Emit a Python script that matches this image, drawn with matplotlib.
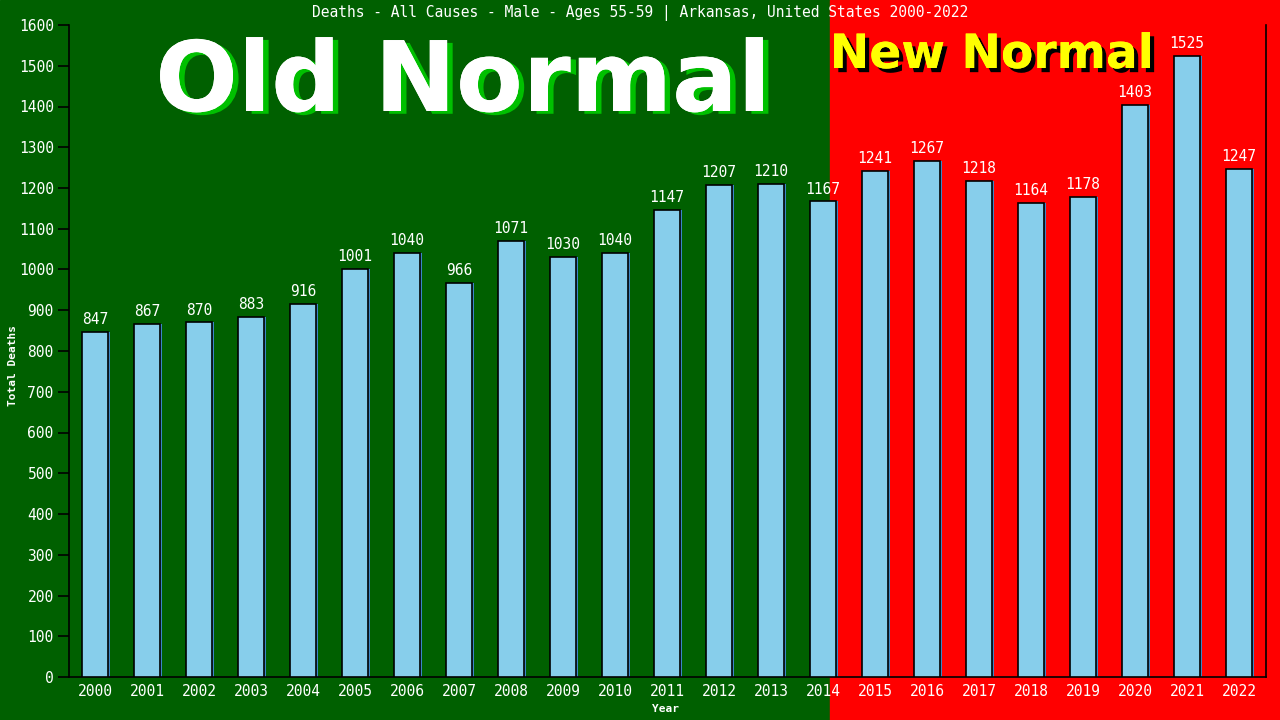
import matplotlib
matplotlib.use("Agg")
import matplotlib.pyplot as plt
import matplotlib.patheffects as pe
from matplotlib.patches import Rectangle
import numpy as np

years = [str(y) for y in range(2000, 2023)]
deaths = [847, 867, 870, 883, 916, 1001, 1040, 966, 1071, 1030, 1040, 1147,
          1207, 1210, 1167, 1241, 1267, 1218, 1164, 1178, 1403, 1525, 1247]
yticks = list(range(0, 1700, 100))
title = "Deaths - All Causes - Male - Ages 55-59 | Arkansas, United States 2000-2022"

mono = "DejaVu Sans Mono"
green = "#006000"
red = "#ff0000"

fig = plt.figure(figsize=(12.8, 7.2), dpi=100)
split = 830 / 1280
fig.patches.append(Rectangle((0, 0), split, 1, transform=fig.transFigure, color=green, zorder=-10))
fig.patches.append(Rectangle((split, 0), 1 - split, 1, transform=fig.transFigure, color=red, zorder=-10))

ax = fig.add_axes([69 / 1280, 43 / 720, 1197 / 1280, 652 / 720])
ax.patch.set_alpha(0)

x = np.arange(len(years))
# shadow then main bar
ax.bar(x + 0.04, deaths, 0.5, color="#3b86c6", zorder=2)
ax.bar(x, deaths, 0.5, color="#87ceeb", edgecolor="black", linewidth=1.2, zorder=3)

for xi, v in zip(x, deaths):
    ax.text(xi, v + 12, str(v), ha="center", va="bottom", color="white",
            fontsize=10.5, family=mono, zorder=4)

ax.set_xlim(-0.5, 22.52)
ax.set_ylim(0, 1600)
ax.set_xticks(x)
ax.set_xticklabels(years, family=mono, fontsize=10.5, color="white")
ax.set_yticks(yticks)
ax.set_yticklabels([str(t) for t in yticks], family=mono, fontsize=10.5, color="white")
ax.tick_params(axis="y", length=8, width=1.2, color="black", pad=3)
ax.tick_params(axis="x", length=0, pad=5)
ax.spines["top"].set_visible(False)
for s in ["left", "right", "bottom"]:
    ax.spines[s].set_color("black")
    ax.spines[s].set_linewidth(1.2)

fig.text(666 / 1280, 1 - 709 / 720, "Year", ha="center", va="center", family=mono,
         fontsize=8, color="white", fontweight="bold")
fig.text(13 / 1280, 1 - 366 / 720, "Total Deaths", ha="center", va="center", family=mono,
         fontsize=8, color="white", fontweight="bold", rotation=90)

fig.text(0.5, 1 - 13 / 720, title, ha="center", va="center", color="white",
         family=mono, fontsize=10.5)

fig.text(463 / 1280, 1 - 111 / 720, "Old Normal", ha="center", va="baseline", color="white",
         fontsize=70, fontweight="bold", family="DejaVu Sans",
         path_effects=[pe.withSimplePatchShadow(offset=(4, -2), shadow_rgbFace="#00c000", alpha=1),
                       pe.Normal()])
fig.text(992 / 1280, 1 - 68 / 720, "New Normal", ha="center", va="baseline", color="#ffff00",
         fontsize=34, fontweight="bold", family="DejaVu Sans",
         path_effects=[pe.withSimplePatchShadow(offset=(3, -3), shadow_rgbFace="black", alpha=1),
                       pe.Normal()])

fig.savefig("out.png", dpi=100)
